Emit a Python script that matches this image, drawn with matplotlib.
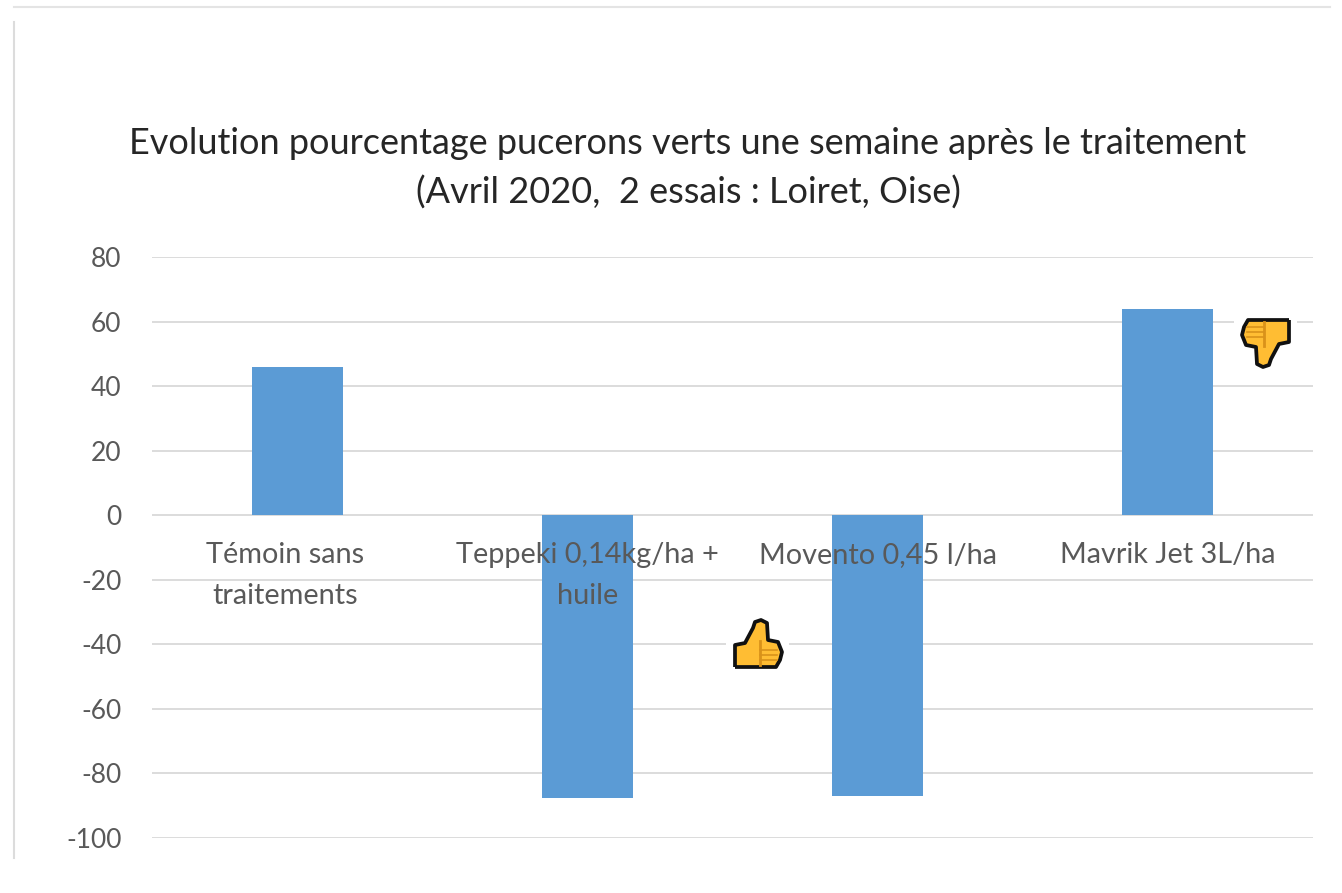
import matplotlib
matplotlib.use("Agg")
import matplotlib.pyplot as plt
from matplotlib.patches import PathPatch, Rectangle
from matplotlib.path import Path

W, H = 1342, 893

categories = ["Témoin sans\ntraitements", "Teppeki 0,14kg/ha +\nhuile", "Movento 0,45 l/ha", "Mavrik Jet 3L/ha"]
values = [46, -87.5, -87, 64]
yticks = [80, 60, 40, 20, 0, -20, -40, -60, -80, -100]
title = "Evolution pourcentage pucerons verts une semaine après le traitement\n(Avril 2020,  2 essais : Loiret, Oise)"

BLUE = "#5b9bd5"
GREY = "#595959"
GRID = "#d9d9d9"
YELLOW = "#ffbd33"
DARK_Y = "#d9921a"

plt.rcParams["font.family"] = ["Lato", "DejaVu Sans"]
plt.rcParams["axes.unicode_minus"] = False  # plain hyphen on the negative ticks


def px_axes(fig, left, top, right, bottom):
    # turn pixel box (from top left) into figure fractions
    return fig.add_axes([left / W, 1 - bottom / H, (right - left) / W, (bottom - top) / H])


def draw_thumb(ov, up, cx, cy):
    # thumb icon, drawn around (0,0) in pixels, flipped for thumbs down
    s = 1 if up else -1
    verts = [(-22, 22), (-22, 0), (-12, -2), (-4, -17), (-2, -23), (4, -25),
             (10, -22), (11, -5), (21, -3), (25, 7), (23, 15), (19, 22), (-22, 22)]
    codes = [Path.MOVETO] + [Path.LINETO] * (len(verts) - 1)
    pts = [(cx + s * x, cy + s * y) for x, y in verts]
    ov.add_patch(PathPatch(Path(pts, codes), facecolor=YELLOW, edgecolor="#111111", linewidth=2.7, joinstyle="round", zorder=3))
    # fingers
    for dy in (5, 10, 15):
        ov.plot([cx + s * 3, cx + s * 20], [cy + s * dy, cy + s * dy], color=DARK_Y, lw=1.2, zorder=4)
    ov.plot([cx + s * 3, cx + s * 3], [cy + s * -4, cy + s * 20], color=DARK_Y, lw=2, zorder=4)


def main():
    fig = plt.figure(figsize=(W / 100, H / 100), dpi=100, facecolor="white")

    # value axis: 80 at y=257, -100 at y=838
    ax = px_axes(fig, 152, 257, 1313, 838)
    ax.set_ylim(-100, 80)
    ax.set_xlim(-0.5, 3.5)
    ax.set_axisbelow(True)
    ax.bar(range(len(values)), values, width=0.313, color=BLUE, zorder=2)

    ax.set_yticks(yticks)
    ax.set_xticks([])
    ax.grid(axis="y", color=GRID, linewidth=1.3)
    ax.tick_params(axis="y", length=0, pad=22, labelsize=19, labelcolor=GREY)
    for s in ax.spines.values():
        s.set_visible(False)
    ax.patch.set_alpha(0)

    # labels sit on top of the bars, like in excel
    label_shift = [-0.04, 0, 0, 0]
    for i, lab in enumerate(categories):
        ax.text(i + label_shift[i], -8.2, lab, ha="center", va="top", fontsize=20.8,
                color=GREY, linespacing=1.72, zorder=5)

    # overlay in pixel coordinates for frame, title and icons
    ov = fig.add_axes([0, 0, 1, 1], facecolor="none")
    ov.set_xlim(0, W)
    ov.set_ylim(H, 0)
    ov.axis("off")
    ov.plot([14, 14], [22, 858], color="#dcdcdc", lw=1.5)
    ov.plot([14, 1330], [7, 7], color="#e4e4e4", lw=1.5)
    ov.text(688, 168, title, ha="center", va="center", fontsize=26, color="#262626", linespacing=1.55)

    # white gaps in the gridlines behind the icons
    ov.add_patch(Rectangle((726, 635), 63, 18, facecolor="white", edgecolor="none", zorder=2))
    ov.add_patch(Rectangle((1234, 313), 63, 18, facecolor="white", edgecolor="none", zorder=2))
    draw_thumb(ov, True, 757, 645)
    draw_thumb(ov, False, 1267, 342)

    fig.savefig("out.png", dpi=100)
    plt.close(fig)


if __name__ == "__main__":
    main()
